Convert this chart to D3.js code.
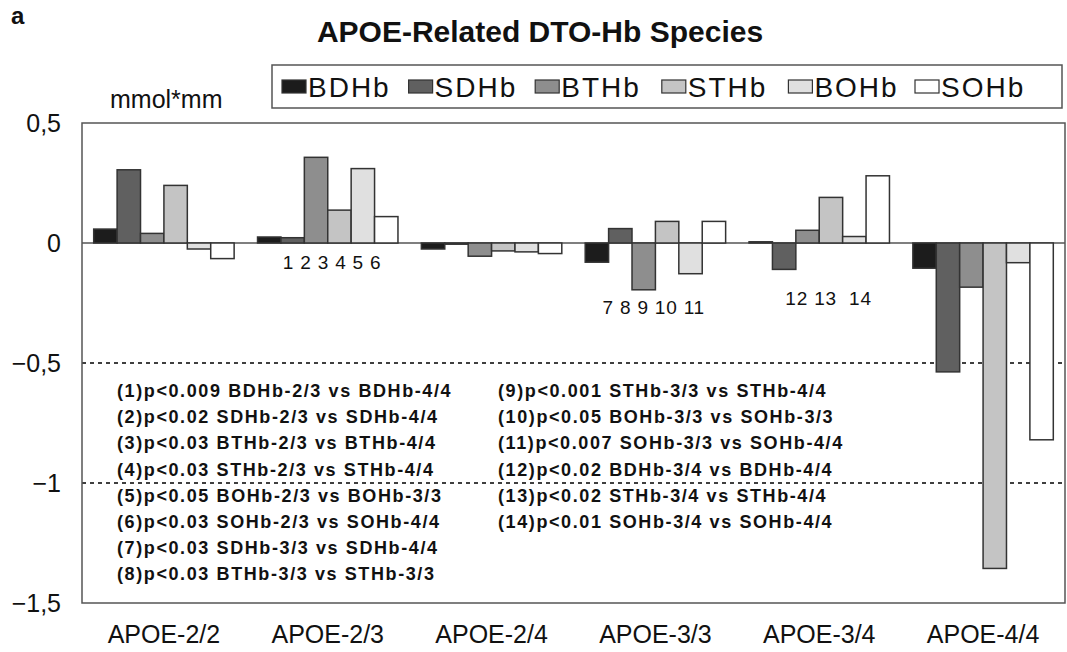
<!DOCTYPE html>
<html>
<head>
<meta charset="utf-8">
<script src="https://cdn.jsdelivr.net/npm/d3@7"></script>
<style>
  body { margin: 0; background: #fff; }
  text { font-family: Arial, "Liberation Sans", sans-serif; fill: #111; }
</style>
</head>
<body>
<div id="chart"></div>
<script>
// categories and series
var groups = ["APOE-2/2", "APOE-2/3", "APOE-2/4", "APOE-3/3", "APOE-3/4", "APOE-4/4"]
var series = ["BDHb", "SDHb", "BTHb", "STHb", "BOHb", "SOHb"]

// values (mmol*mm), one per group
var BDHb = [0.058, 0.025, -0.025, -0.08, 0.005, -0.105]
var SDHb = [0.305, 0.022, -0.005, 0.06, -0.11, -0.537]
var BTHb = [0.04, 0.357, -0.055, -0.195, 0.053, -0.184]
var STHb = [0.24, 0.137, -0.033, 0.09, 0.19, -1.356]
var BOHb = [-0.025, 0.31, -0.037, -0.128, 0.027, -0.082]
var SOHb = [-0.065, 0.11, -0.044, 0.09, 0.28, -0.82]

var yTicks = [0.5, 0, -0.5, -1, -1.5]
var yTickLabels = ["0,5", "0", "\u22120,5", "\u22121", "\u22121,5"]

// significance marks and footnotes
var markLabels = [
  { group: "APOE-2/3", text: "1 2 3 4 5 6" },
  { group: "APOE-3/3", text: "7 8 9 10 11" },
  { group: "APOE-3/4", text: "12 13  14" }
]
var notesLeft = [
  "(1)p<0.009 BDHb-2/3 vs BDHb-4/4",
  "(2)p<0.02 SDHb-2/3 vs SDHb-4/4",
  "(3)p<0.03 BTHb-2/3 vs BTHb-4/4",
  "(4)p<0.03 STHb-2/3 vs STHb-4/4",
  "(5)p<0.05 BOHb-2/3 vs BOHb-3/3",
  "(6)p<0.03 SOHb-2/3 vs SOHb-4/4",
  "(7)p<0.03 SDHb-3/3 vs SDHb-4/4",
  "(8)p<0.03 BTHb-3/3 vs STHb-3/3"
]
var notesRight = [
  "(9)p<0.001 STHb-3/3 vs STHb-4/4",
  "(10)p<0.05 BOHb-3/3 vs SOHb-3/3",
  "(11)p<0.007 SOHb-3/3 vs SOHb-4/4",
  "(12)p<0.02 BDHb-3/4 vs BDHb-4/4",
  "(13)p<0.02 STHb-3/4 vs STHb-4/4",
  "(14)p<0.01 SOHb-3/4 vs SOHb-4/4"
]

var values = { BDHb: BDHb, SDHb: SDHb, BTHb: BTHb, STHb: STHb, BOHb: BOHb, SOHb: SOHb }
var colors = ["#1c1c1c", "#606060", "#8e8e8e", "#c4c4c4", "#e0e0e0", "#ffffff"]

var width = 1067
var height = 652
var margin = {top: 123, right: 2, bottom: 49, left: 82}

var svg = d3.select("#chart")
  .append("svg")
  .attr("width", width)
  .attr("height", height)

svg.append("rect").attr("width", width).attr("height", height).attr("fill", "#fff")

var x0 = d3.scaleBand()
  .domain(groups)
  .range([margin.left, width - margin.right])

var x1 = d3.scaleBand()
  .domain(series)
  .range([0, x0.bandwidth()])
  .paddingOuter(0.5)

var color = d3.scaleOrdinal().domain(series).range(colors)

var y = d3.scaleLinear()
  .domain([-1.5, 0.5])
  .range([height - margin.bottom, margin.top])

// dashed grid lines
svg.append("g")
  .selectAll("line")
  .data([-0.5, -1])
  .join("line")
    .attr("x1", margin.left)
    .attr("x2", width - margin.right)
    .attr("y1", d => y(d))
    .attr("y2", d => y(d))
    .attr("stroke", "#000")
    .attr("stroke-width", 1.3)
    .attr("stroke-dasharray", "4,4")

// footnotes (drawn under the bars)
var notes = svg.append("g")
  .style("font-size", "18px")
  .style("font-weight", "bold")
  .style("letter-spacing", "1.6px")
notes.selectAll(".nl")
  .data(notesLeft)
  .join("text")
    .attr("class", "nl")
    .attr("x", 117)
    .attr("y", (d, i) => 397 + i * 26.2)
    .text(d => d)
notes.selectAll(".nr")
  .data(notesRight)
  .join("text")
    .attr("class", "nr")
    .attr("x", 498)
    .attr("y", (d, i) => 397 + i * 26.2)
    .text(d => d)

// zero line
svg.append("line")
  .attr("x1", margin.left)
  .attr("x2", width - margin.right)
  .attr("y1", y(0))
  .attr("y2", y(0))
  .attr("stroke", "#555")
  .attr("stroke-width", 1.5)

// bars
svg.append("g")
  .selectAll("g")
  .data(groups)
  .join("g")
    .attr("transform", d => "translate(" + x0(d) + ",0)")
  .selectAll("rect")
  .data((g, gi) => series.map(s => ({ key: s, value: values[s][gi] })))
  .join("rect")
    .attr("x", d => x1(d.key))
    .attr("width", x1.bandwidth())
    .attr("y", d => y(Math.max(0, d.value)))
    .attr("height", d => Math.abs(y(d.value) - y(0)))
    .attr("fill", d => color(d.key))
    .attr("stroke", "#333")
    .attr("stroke-width", 1.5)

// frame
svg.append("rect")
  .attr("x", margin.left)
  .attr("y", margin.top)
  .attr("width", width - margin.left - margin.right)
  .attr("height", height - margin.top - margin.bottom)
  .attr("fill", "none")
  .attr("stroke", "#555")
  .attr("stroke-width", 1.5)

// y tick labels
svg.append("g")
  .selectAll("text")
  .data(yTicks)
  .join("text")
    .attr("x", 61)
    .attr("y", d => y(d))
    .attr("dy", "0.36em")
    .attr("text-anchor", "end")
    .style("font-size", "25px")
    .text((d, i) => yTickLabels[i])

// x labels
svg.append("g")
  .selectAll("text")
  .data(groups)
  .join("text")
    .attr("x", d => x0(d) + x0.bandwidth() / 2)
    .attr("y", 643)
    .attr("text-anchor", "middle")
    .style("font-size", "25px")
    .text(d => d)

// numbers under the bars
var markOffsets = { "APOE-2/3": [37, 269], "APOE-3/3": [29, 314], "APOE-3/4": [48, 305] }
svg.append("g")
  .selectAll("text")
  .data(markLabels)
  .join("text")
    .attr("x", d => x0(d.group) + markOffsets[d.group][0])
    .attr("y", d => markOffsets[d.group][1])
    .style("font-size", "19px")
    .style("letter-spacing", "0.8px")
    .style("white-space", "pre")
    .text(d => d.text)

// unit label
svg.append("text")
  .attr("x", 110)
  .attr("y", 108)
  .style("font-size", "25px")
  .text("mmol*mm")

// title and panel letter
svg.append("text")
  .attr("x", 540)
  .attr("y", 42)
  .attr("text-anchor", "middle")
  .style("font-size", "30px")
  .style("font-weight", "bold")
  .text("APOE-Related DTO-Hb Species")

svg.append("text")
  .attr("x", 11)
  .attr("y", 24)
  .style("font-size", "24px")
  .style("font-weight", "bold")
  .text("a")

// legend
var legend = svg.append("g")
legend.append("rect")
  .attr("x", 272)
  .attr("y", 65)
  .attr("width", 790)
  .attr("height", 43)
  .attr("fill", "#fff")
  .attr("stroke", "#555")
  .attr("stroke-width", 1.5)

var item = legend.selectAll(".item")
  .data(series)
  .join("g")
    .attr("class", "item")
    .attr("transform", (d, i) => "translate(" + (282 + i * 126.6) + ",0)")
item.append("rect")
  .attr("x", 0)
  .attr("y", 80)
  .attr("width", 24)
  .attr("height", 13)
  .attr("fill", d => color(d))
  .attr("stroke", "#333")
  .attr("stroke-width", 1.2)
item.append("text")
  .attr("x", 26)
  .attr("y", 97)
  .style("font-size", "28px")
  .style("letter-spacing", "2px")
  .text(d => d)
</script>
</body>
</html>
